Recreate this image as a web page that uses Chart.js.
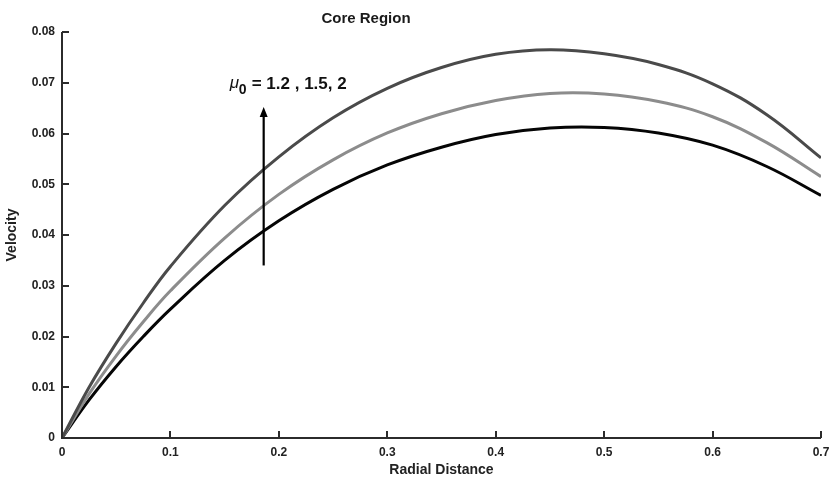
<!DOCTYPE html>
<html>
<head>
<meta charset="utf-8">
<script src="https://cdn.jsdelivr.net/npm/chart.js@4.4.0/dist/chart.umd.min.js"></script>
<style>
  html, body { margin: 0; padding: 0; background: #fff; }
  #wrap { width: 831px; height: 483px; }
</style>
</head>
<body>
<div id="wrap"><canvas id="c" width="831" height="483"></canvas></div>
<script>
// ---- data ----
const radialDistance = [0, 0.025, 0.05, 0.075, 0.1, 0.15, 0.2, 0.25, 0.3, 0.35, 0.4, 0.45, 0.5, 0.55, 0.6, 0.65, 0.7];
const velocityMu2   = [0, 0.0100, 0.0187, 0.0266, 0.0338, 0.0458, 0.0554, 0.0631, 0.0689, 0.0730, 0.0756, 0.0765, 0.0757, 0.0736, 0.0698, 0.0637, 0.0552];
const velocityMu15  = [0, 0.0087, 0.0162, 0.0229, 0.0290, 0.0394, 0.0480, 0.0548, 0.0601, 0.0639, 0.0665, 0.0679, 0.0678, 0.0663, 0.0633, 0.0582, 0.0515];
const velocityMu12  = [0, 0.0075, 0.0141, 0.0200, 0.0254, 0.0350, 0.0428, 0.0490, 0.0538, 0.0573, 0.0598, 0.0611, 0.0612, 0.0601, 0.0577, 0.0535, 0.0478];
const xTickLabels = ["0", "0.1", "0.2", "0.3", "0.4", "0.5", "0.6", "0.7"];
const yTickLabels = ["0", "0.01", "0.02", "0.03", "0.04", "0.05", "0.06", "0.07", "0.08"];
const chartTitle = "Core Region";
const arrowX = 0.186, arrowFrom = 0.0340, arrowTo = 0.0652;
const annotationText = "= 1.2 , 1.5, 2";

function pts(ys) { return radialDistance.map((x, i) => ({ x: x, y: ys[i] })); }

const FONT = "'Liberation Sans', Arial, sans-serif";
const AXIS = '#2b2b2b';

const decorPlugin = {
  id: 'decor',
  afterDraw(chart) {
    const ctx = chart.ctx, xs = chart.scales.x, ys = chart.scales.y, ca = chart.chartArea;
    ctx.save();
    // axis lines
    ctx.strokeStyle = AXIS; ctx.lineWidth = 2;
    ctx.beginPath();
    ctx.moveTo(ca.left, ca.top); ctx.lineTo(ca.left, ca.bottom); ctx.lineTo(ca.right, ca.bottom);
    ctx.stroke();
    // inward ticks
    xs.ticks.forEach(t => {
      const px = Math.round(xs.getPixelForValue(t.value));
      ctx.beginPath(); ctx.moveTo(px, ca.bottom); ctx.lineTo(px, ca.bottom - 7); ctx.stroke();
    });
    ys.ticks.forEach(t => {
      const py = Math.round(ys.getPixelForValue(t.value));
      ctx.beginPath(); ctx.moveTo(ca.left, py); ctx.lineTo(ca.left + 7, py); ctx.stroke();
    });
    // title
    ctx.fillStyle = '#1a1a1a';
    ctx.font = "bold 15px " + FONT;
    ctx.textAlign = 'center'; ctx.textBaseline = 'middle';
    ctx.fillText(chartTitle, 366, 19);
    // arrow
    const ax = xs.getPixelForValue(arrowX);
    const y0 = ys.getPixelForValue(arrowFrom), y1 = ys.getPixelForValue(arrowTo);
    ctx.strokeStyle = '#000'; ctx.fillStyle = '#000'; ctx.lineWidth = 2.2;
    ctx.beginPath(); ctx.moveTo(ax, y0); ctx.lineTo(ax, y1 + 8); ctx.stroke();
    ctx.beginPath(); ctx.moveTo(ax, y1); ctx.lineTo(ax - 4, y1 + 10); ctx.lineTo(ax + 4, y1 + 10); ctx.closePath(); ctx.fill();
    // annotation
    const tx = ax - 34, ty = ys.getPixelForValue(0.0687);
    ctx.textAlign = 'left'; ctx.textBaseline = 'alphabetic';
    ctx.fillStyle = '#111';
    ctx.font = "italic 17px " + FONT;
    ctx.fillText("\u03BC", tx, ty - 1);
    ctx.font = "bold 14px " + FONT;
    ctx.fillText("0", tx + 9, ty + 5);
    ctx.font = "bold 17px " + FONT;
    ctx.fillText(annotationText, tx + 22, ty);
    ctx.restore();
  }
};

new Chart(document.getElementById('c'), {
  type: 'line',
  data: {
    datasets: [
      { label: 'mu0 = 2',   data: pts(velocityMu2),  borderColor: '#4a4a4a', borderWidth: 3 },
      { label: 'mu0 = 1.5', data: pts(velocityMu15), borderColor: '#8c8c8c', borderWidth: 3 },
      { label: 'mu0 = 1.2', data: pts(velocityMu12), borderColor: '#050505', borderWidth: 3 }
    ]
  },
  options: {
    responsive: false,
    animation: false,
    devicePixelRatio: 1,
    layout: { padding: { top: 32, right: 10, left: 0, bottom: 0 } },
    elements: { point: { radius: 0 }, line: { tension: 0.4, fill: false, borderCapStyle: 'butt' } },
    plugins: { legend: { display: false }, tooltip: { enabled: false }, title: { display: false } },
    scales: {
      x: {
        type: 'linear', min: 0, max: 0.7,
        grid: { display: false, drawTicks: false },
        border: { display: false },
        ticks: {
          stepSize: 0.1, padding: 7, color: '#222', maxRotation: 0,
          font: { family: FONT, size: 12, weight: 'bold' },
          callback: (v, i) => xTickLabels[i]
        },
        title: { display: true, text: 'Radial Distance', color: '#222', padding: { top: 2 },
                 font: { family: FONT, size: 14, weight: 'bold' } },
        afterFit(s) { s.height = 45; s.paddingRight = 0; s.paddingLeft = 0; }
      },
      y: {
        type: 'linear', min: 0, max: 0.08,
        grid: { display: false, drawTicks: false },
        border: { display: false },
        ticks: {
          stepSize: 0.01, padding: 7, color: '#222',
          font: { family: FONT, size: 12, weight: 'bold' },
          callback: (v, i) => yTickLabels[i]
        },
        title: { display: true, text: 'Velocity', color: '#222', padding: { bottom: 4 },
                 font: { family: FONT, size: 14, weight: 'bold' } },
        afterFit(s) { s.width = 62; s.paddingTop = 0; s.paddingBottom = 0; }
      }
    }
  },
  plugins: [decorPlugin]
});
</script>
</body>
</html>
